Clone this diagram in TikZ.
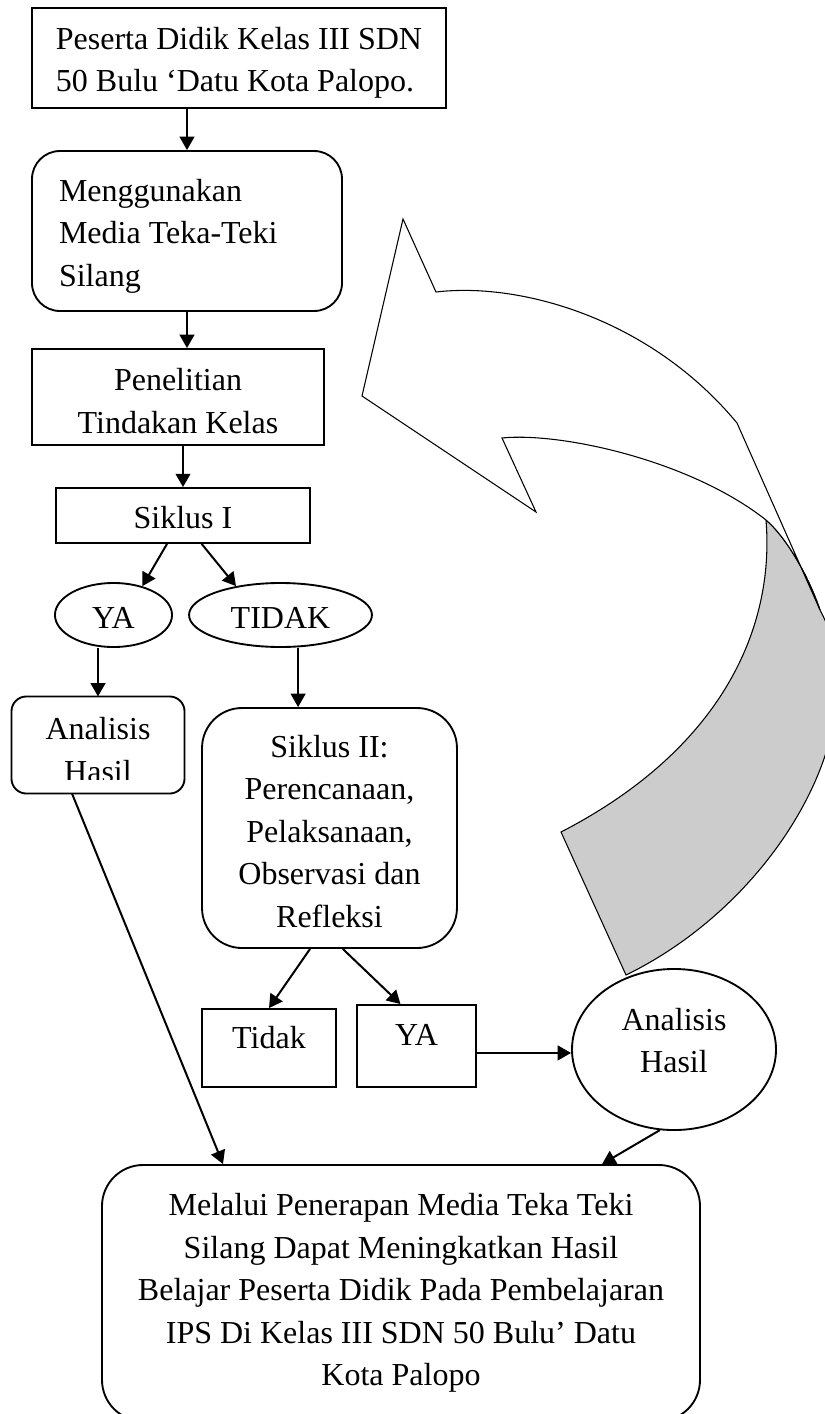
\documentclass[tikz,border=0pt]{standalone}
\usepackage{fontspec}
\setmainfont{Liberation Serif}
\usepackage{tikz}
\usetikzlibrary{arrows.meta, shapes.geometric}

\begin{document}
\begin{tikzpicture}[x=0.375pt, y=-0.375pt,
    every node/.style={font=\fontsize{12pt}{15.94pt}\selectfont, inner sep=0pt},
    box/.style={draw, line width=0.7pt, rectangle},
    oval/.style={draw, line width=0.7pt, ellipse},
    arr/.style={-{Triangle[length=5pt,width=5.5pt]}, line width=0.75pt}]
      \useasboundingbox (0,0) rectangle (824,1414);
      % curved arrow
      \draw[line width=0.4pt, fill=black!20] (766,520) .. controls (775,630) and (720,750) .. (561,832)
        -- (626,975) .. controls (780,900) and (880,720) .. (820,610)
        .. controls (808,575) and (786,537) .. (766,520) -- cycle;
      \draw[line width=0.4pt, fill=white] (820,610) .. controls (808,575) and (786,537) .. (766,520)
        .. controls (690,460) and (560,432) .. (502,438) -- (536,512) -- (362,396) -- (403,219)
        -- (436,292) .. controls (520,282) and (650,318) .. (737,423) -- cycle;
      % boxes
      \node[box, minimum width=155.25pt, minimum height=37.5pt, align=left] (ps) at (239,58)
        {\rule{0pt}{12pt}Peserta Didik Kelas III SDN\\50 Bulu ‘Datu Kota Palopo.};
      \node[box, rounded corners=10.5pt, minimum width=116.25pt, minimum height=60pt, text width=96pt, align=flush left] (mg) at (187,231)
        {\rule{0pt}{12pt}Menggunakan\\Media Teka-Teki\\Silang};
      \node[box, minimum width=109.5pt, minimum height=36pt, align=center] (pt) at (178,397)
        {\rule{0pt}{11.4pt}Penelitian\\Tindakan Kelas};
      \node[box, minimum width=95.25pt, minimum height=20.6pt, text height=10.4pt, text depth=1pt] (s1) at (183,515.5) {Siklus I};
      \node[oval, minimum width=43.9pt, minimum height=24pt, text height=10.75pt, text depth=1pt] (ya) at (113.5,615) {YA};
      \node[oval, minimum width=68.6pt, minimum height=24pt, text height=10.75pt, text depth=1pt] (td) at (280.5,615) {TIDAK};
      \begin{scope}
        \clip (12,697) rectangle (184,779);
        \node[minimum width=64.5pt, minimum height=36pt, align=center] (a1) at (98,745) {\rule{0pt}{12pt}Analisis\\Hasil};
      \end{scope}
      \draw[line width=0.7pt, rounded corners=5.6pt] (a1.north west) rectangle (a1.south east);
      \node[box, rounded corners=15pt, minimum width=95.6pt, minimum height=90pt, align=center] (s2) at (329.5,828)
        {\rule{0pt}{10.8pt}Siklus II:\\Perencanaan,\\Pelaksanaan,\\Observasi dan\\Refleksi};
      \node[box, minimum width=50.25pt, minimum height=29.25pt, text height=8.25pt, text depth=8.25pt] (tk) at (269,1048) {Tidak};
      \node[box, minimum width=44.6pt, minimum height=30.75pt, text height=8.25pt, text depth=9pt] (yb) at (416.5,1046) {YA};
      \node[oval, minimum width=76.5pt, minimum height=60.4pt, align=center] (a2) at (674,1049.5)
        {Analisis\\Hasil\rule[-6.75pt]{0pt}{0pt}};
      \node[box, rounded corners=15.4pt, minimum width=224.25pt, minimum height=96pt, align=center] (hs) at (401,1293)
        {Melalui Penerapan Media Teka Teki\\Silang Dapat Meningkatkan Hasil\\Belajar Peserta Didik Pada Pembelajaran\\IPS Di Kelas III SDN 50 Bulu’ Datu\\Kota Palopo};
      % vertical arrows
      \draw[arr] (ps.south -| mg.north) -- (mg.north);
      \draw[arr] (mg.south) -- (mg.south |- pt.north);
      \draw[arr] (pt.south -| s1.north) -- (s1.north);
      % siklus I branches
      \draw[arr] ([xshift=-6pt]s1.south) -- (ya.45);
      \draw[arr] ([xshift=7pt]s1.south) -- (td.147);
      \draw[arr] (ya.south -| a1.north) -- (a1.north);
      \draw[arr] ([xshift=6.6pt]td.south) -- ([xshift=6.6pt]td.south |- s2.north);
      % siklus II branches
      \draw[arr] ([xshift=-7.3pt]s2.south) -- (tk.north);
      \draw[arr] ([xshift=5pt]s2.south) -- ([xshift=-6pt]yb.north);
      \draw[arr] ([yshift=-2.6pt]yb.east) -- ([yshift=-2.6pt]yb.east -| a2.west);
      % to conclusion
      \draw[arr] ([xshift=-9.75pt]a1.south) -- ([xshift=-66.75pt]hs.north);
      \draw[arr] (a2.260) -- ([xshift=75.4pt]hs.north);
    \end{tikzpicture}
\end{document}
